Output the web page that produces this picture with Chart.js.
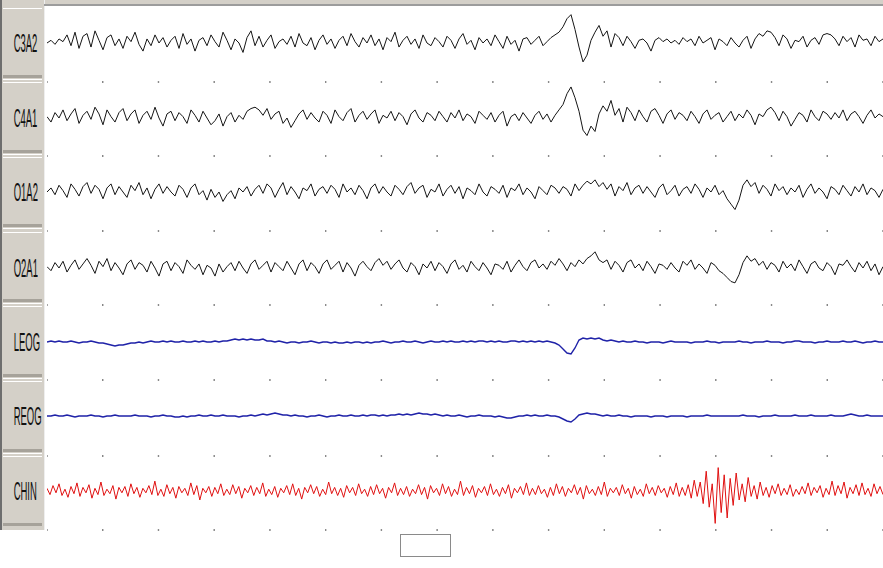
<!DOCTYPE html>
<html><head><meta charset="utf-8">
<script src="https://cdn.jsdelivr.net/npm/chart.js@4"></script>
<style>
html,body{margin:0;padding:0;background:#fff;width:883px;height:568px;overflow:hidden;position:relative;font-family:"Liberation Sans",Arial,sans-serif}
#topbar{position:absolute;left:0;top:0;width:883px;height:4px;background:#d4d0c8}
#topline{position:absolute;left:44px;top:4px;width:839px;height:2px;background:#9c9c9c}
#panel{position:absolute;left:0;top:0;width:42px;height:530px;background:#d4d0c8;border-left:2px solid #6e6e6e;border-right:1px solid #eeeeee}
.hl{position:absolute;left:3px;width:39px;height:1px;background:#ffffff}
.dk{position:absolute;left:3px;width:39px;height:3px;background:#a6a29a}
.lbl{position:absolute;left:0;width:44px;height:28px;line-height:28px;text-align:center;font-size:25px;color:#111;transform:scaleX(0.38);transform-origin:22px 14px;white-space:nowrap}
#wrap{position:absolute;left:45px;top:0;width:838px;height:568px}
#box{position:absolute;left:400px;top:534px;width:49px;height:21px;border:1px solid #8a8a8a;background:#fff}
</style></head>
<body>
<div id="topbar"></div>
<div id="panel"></div>
<div id="topline"></div>
<div id="wrap"><canvas id="c" width="838" height="568"></canvas></div>
<div id="box"></div>
<script>
// ---- data (amplitudes, positive = upward deflection) ----
const channels = ['C3A2','C4A1','O1A2','O2A1','LEOG','REOG','CHIN'];
const epochSeconds = 30;
const gridSeconds = [0,2,4,6,8,10,12,14,16,18,20,22,24,26,28,30];

const c3a2 = [0,2,-1,3,1,6,-2,8,-4,5, 7,-3,9,2,-5,4,6,-2,3,-4, 5,1,8,-1,-6,3,-2,6,0,4, -3,2,5,-4,7,-1,3,-6,2,4,
 -2,6,1,-3,8,2,-5,3,0,-7, 4,9,-2,5,-3,2,6,-4,1,3, -1,5,-3,7,0,-2,4,-5,2,6, -1,3,-4,2,5,-2,7,1,-3,4,
 0,6,-2,3,-5,4,1,8,-3,2, 5,-1,3,-4,6,0,-2,4,1,-3, 5,2,-4,3,7,-1,2,-5,4,0, 3,-2,6,1,-4,5,-1,2,-6,3,
 4,-1,2,5,-2,1,4,6,8,12, 18,21,10,-3,-14,-9,2,8,13,5, 9,-3,7,4,-2,5,1,-4,2,3, 0,-6,2,4,1,3,0,2,-1,4,
 1,3,-2,5,0,2,4,-5,3,1, -2,4,0,-3,2,5,-4,3,7,5, 9,8,4,-2,6,3,-4,2,1,5, -3,2,4,-1,6,7,6,3,-2,5, 1,4,-3,6,2,3,-2,5,1,3];

const c4a1 = [1,-3,4,0,6,-2,3,7,-4,2, 5,-1,8,3,-5,6,1,-3,4,7, -2,3,6,-4,2,5,-1,8,0,-6, 3,5,-2,4,1,-4,6,2,-3,5,
 0,-5,-2,3,-6,1,4,-3,2,-1, 5,7,8,6,2,7,-1,3,5,-4, 0,-7,-2,3,6,-1,4,0,-3,5, 2,-4,6,1,-2,4,7,-3,2,5,
 -1,3,6,-4,2,0,5,-2,4,1, -5,3,6,0,-3,4,2,-2,5,1, -3,4,0,6,-2,3,1,-4,5,2, -1,4,-3,2,5,-6,1,3,-2,4,
 0,-4,2,5,-1,3,-3,2,6,10, 18,23,15,5,-9,-13,-6,-10,3,9, 5,13,2,7,-3,8,4,-2,6,1, -3,5,7,2,-4,3,6,-1,4,2,
 -2,5,1,-4,3,6,-1,2,4,-3, 1,5,-2,3,0,6,2,-5,3,1, 6,8,4,-2,5,1,-6,-1,4,2, -3,6,1,-2,5,3,-1,4,0,6, -2,3,5,1,-4,2,6,0,3,1];

const o1a2 = [0,3,-2,5,1,-4,6,2,-3,4, 7,-1,5,2,-5,3,6,-2,4,0, -4,5,1,7,-2,3,-5,2,6,-1, 4,0,-3,5,2,-4,3,6,-2,1,
 -6,2,-4,0,-7,-2,1,-5,3,0, 4,-3,2,5,-1,6,3,-4,2,7, -2,4,0,-5,3,1,6,-3,2,4, -1,5,2,-4,6,0,3,-2,5,1,
 -5,3,6,-1,4,0,-3,5,2,-2, 4,7,-1,3,5,-4,2,0,6,-3, 2,5,-1,4,-5,3,1,-2,6,0, -3,4,2,-1,5,-4,3,1,6,-2,
 3,0,-5,4,1,-2,5,3,-1,4, 2,-3,6,1,5,8,6,9,4,7, 2,6,-3,4,1,7,-2,3,5,-1, 4,0,-4,3,6,-2,1,5,-3,2,
 4,-1,6,2,-4,3,0,5,-2,1, -5,-9,-13,-6,5,9,4,7,-1,5, 2,-3,6,1,4,-2,3,0,5,-4, 2,6,-1,3,0,-5,4,2,-2,5, 1,-3,4,0,6,-2,3,1,-4,2];

const o2a1 = [1,-2,4,0,5,-3,2,6,-1,3, 7,2,-4,5,1,7,-2,4,0,-5, 3,6,-1,4,2,-3,5,0,-6,3, 5,-2,4,1,-4,6,2,-1,3,-5,
 2,0,-6,3,-3,1,4,-2,5,0, -4,3,6,-1,2,5,-3,4,1,-2, 5,0,-5,3,6,-2,4,1,-4,3, 6,-1,2,5,-3,4,0,-6,2,5,
 1,-2,4,7,2,5,-1,3,6,0, -3,4,1,-5,3,0,5,-2,4,1, -4,3,6,-1,2,-3,5,1,-2,4, 0,-5,3,2,-1,5,-3,2,6,1,
 -2,4,6,0,3,-1,5,2,7,3, -2,4,1,6,3,7,9,12,6,4, 6,-1,5,2,-3,4,6,0,3,-2, 5,1,-4,3,2,-1,4,0,-3,5,
 2,6,-1,3,0,-4,4,2,-2,-4, -7,-10,-11,-5,4,9,5,7,2,5, -1,4,2,-3,5,0,3,-2,6,1, -4,3,5,0,-2,4,1,-5,3,2, 6,1,-3,4,0,5,-2,3,-5,1];

const leog = [0,1,0,1,0,0,1,0,-1,0, 0,1,0,-1,-1,-2,-3,-4,-3,-3, -2,-1,-1,0,-1,0,1,0,0,1, 0,1,0,0,1,0,0,1,0,1,
 0,0,1,0,1,1,2,3,2,3, 2,3,2,2,3,1,1,0,1,0, -1,0,0,-1,0,0,1,0,-1,0, 0,-1,0,-1,-1,0,-1,0,0,-1,
 0,-1,0,0,1,0,-1,0,0,1, 0,0,1,0,-1,0,1,0,0,1, 0,1,0,0,1,0,1,0,1,1, 0,1,0,1,0,0,1,1,0,1,
 0,1,0,1,0,1,0,-1,-3,-7, -11,-12,-6,2,4,3,4,3,4,2, 1,2,1,0,1,0,0,1,0,0, -1,0,0,0,-1,0,1,0,0,0,
 0,-1,0,0,0,1,0,0,-1,0, 0,0,0,1,0,0,-1,0,0,0, 1,0,0,0,-1,0,0,1,1,0, 0,0,-1,0,0,1,0,0,0,1, 0,0,1,0,-1,0,0,1,0,0];

const reog = [0,0,1,0,0,1,0,-1,0,0, 0,1,0,0,-1,0,0,1,0,0, 0,0,1,0,0,0,-1,0,0,1, 0,0,-1,-1,0,-1,0,0,1,0,
 0,1,0,0,1,0,0,0,-1,0, 0,1,0,1,2,1,2,3,2,1, 1,0,1,0,0,-1,0,0,1,0, -1,0,0,1,0,0,1,0,0,1,
 0,1,1,0,1,0,1,1,2,1, 2,1,2,3,2,2,1,2,1,0, 1,0,0,1,0,-1,0,0,1,0, 0,0,-1,0,-1,-2,-2,-1,0,0,
 1,0,1,0,0,1,0,0,-1,-3, -5,-6,-3,1,2,3,2,2,1,0, 1,0,0,1,0,0,-1,0,0,0, 0,-1,0,0,0,-1,0,0,0,0,
 -1,0,0,0,0,1,0,0,0,0, 0,0,0,0,1,0,0,0,-1,0, 0,0,1,0,0,0,0,1,0,0, 0,1,0,0,0,0,1,0,0,0, 1,2,1,0,0,1,0,0,0,0];

const chin = [3,-4,6,-2,8,-5,2,-7,5,-3, 9,-6,4,-2,7,-8,3,-4,10,-5, 2,-3,6,-9,4,-2,5,-6,8,-3, 4,-7,3,-2,6,-4,11,-5,2,-6,
 7,-3,4,-8,5,-2,3,-5,9,-4, 6,-10,3,-2,5,-6,4,-3,8,-5, 2,-4,7,-3,5,-8,3,-2,6,-5, 4,-3,9,-6,2,-4,5,-7,3,-2,
 6,-4,8,-5,3,-9,4,-2,7,-3, 5,-6,2,-4,10,-3,4,-5,3,-7, 6,-2,4,-5,8,-3,2,-6,5,-4, 7,-3,3,-8,4,-2,9,-5,3,-4,
 5,-6,2,-3,7,-4,4,-9,6,-2, 3,-5,8,-3,5,-6,2,-4,11,-5, 4,-3,6,-7,3,-2,5,-5,8,-4, 2,-6,4,-3,7,-8,3,-2,5,-4,
 9,-5,3,-4,6,-3,2,-7,4,-5, 8,-3,5,-6,3,-2,7,-4,4,-9, 6,-3,2,-5,5,-4,10,-6,3,-2, 4,-5,7,-3,3,-8,5,-4,2,-6,
 8,-3,4,-5,6,-2,3,-7,5,-4, 9,-6,4,-5,7,-8,12,-6,10,-14, 22,-18,8,-36,26,-24,18,-30,14,-16, 20,-10,8,-12,15,-6,6,-9,10,-5,
 4,-7,6,-3,8,-5,3,-4,7,-6, 2,-4,5,-3,9,-5,4,-2,6,-7, 3,-4,11,-5,6,-3,10,-8,4,-3, 7,-5,9,-4,3,-6,8,-3,5,-4];

const traces = [c3a2, c4a1, o1a2, o2a1, leog, reog, chin];

// ---- layout / style ----
const baselines = [43,118,192,268,342,416,491];
const gains = [1.35,1.35,1.35,1.35,1,1,0.9];
const dotRows = [82,156,231,305,380,456,530];
const colors = ['#151515','#151515','#151515','#151515','#1f22a8','#1f22a8','#e01010'];
const widths = [1,1,1,1,1.4,1.4,1];

// left button panel
const body = document.body;
channels.forEach((name,k)=>{
  const off = 74.7*k;
  const hl = document.createElement('div'); hl.className='hl'; hl.style.top=(7.5+off)+'px'; body.appendChild(hl);
  const dk = document.createElement('div'); dk.className='dk'; dk.style.top=(75+off)+'px'; body.appendChild(dk);
  const hl2 = document.createElement('div'); hl2.className='hl'; hl2.style.top=(79+off)+'px'; if(k<6) body.appendChild(hl2);
  const l = document.createElement('div'); l.className='lbl'; l.textContent=name; l.style.top=(baselines[k]-14)+'px'; body.appendChild(l);
});

const datasets = traces.map((vals,k)=>{
  const n = vals.length;
  return {
    label: channels[k],
    data: vals.map((v,i)=>({x: i*epochSeconds/(n-1), y: baselines[k]-v*gains[k]})),
    borderColor: colors[k], borderWidth: widths[k], pointRadius: 0, tension: 0, fill: false, showLine: true
  };
});
const dots = [];
dotRows.forEach(r=>gridSeconds.forEach(s=>dots.push({x:s,y:r})));
datasets.push({label:'grid', data:dots, showLine:false, pointStyle:'rect', pointRadius:1, borderWidth:0, backgroundColor:'#5a5a5a', borderColor:'#5a5a5a'});

new Chart(document.getElementById('c'), {
  type: 'scatter',
  data: { datasets },
  options: {
    responsive: false, animation: false, devicePixelRatio: 1,
    layout: { autoPadding: false, padding: { left: 2, right: 0, top: 0, bottom: 0 } },
    scales: {
      x: { type: 'linear', min: 0, max: epochSeconds, display: false },
      y: { type: 'linear', min: 0, max: 568, reverse: true, display: false }
    },
    plugins: { legend: { display: false }, tooltip: { enabled: false } }
  }
});
</script>
</body></html>
